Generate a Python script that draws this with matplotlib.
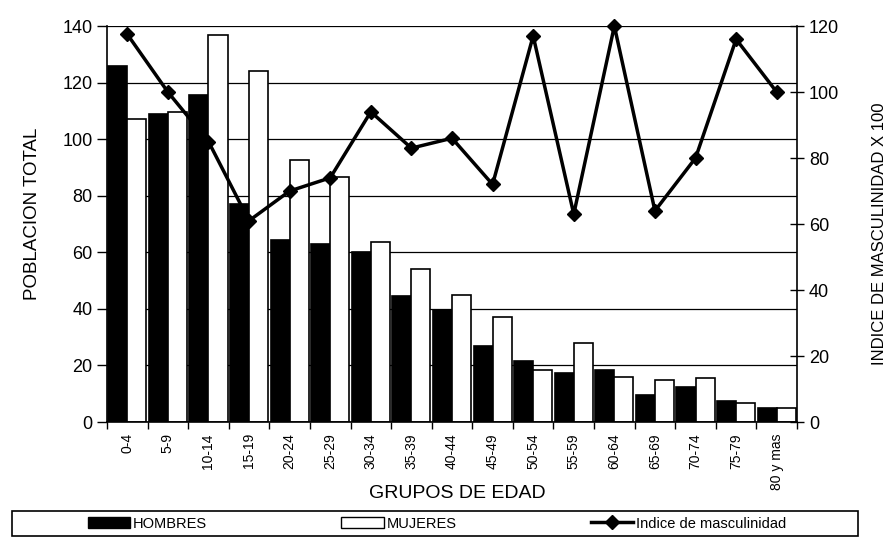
import matplotlib.pyplot as plt
import numpy as np
from matplotlib.patches import Rectangle, Patch
from matplotlib.lines import Line2D

# Data
grupos = ["0-4", "5-9", "10-14", "15-19", "20-24", "25-29", "30-34", "35-39",
          "40-44", "45-49", "50-54", "55-59", "60-64", "65-69", "70-74",
          "75-79", "80 y mas"]
hombres = [126, 109, 115.5, 77, 64.5, 63, 60, 44.5, 39.5, 27, 21.5, 17.5,
           18.5, 9.5, 12.5, 7.5, 5]
mujeres = [107, 109.5, 137, 124, 92.5, 86.5, 63.5, 54, 45, 37, 18.5, 28,
           16, 14.8, 15.4, 6.7, 4.9]
indice = [117.5, 100, 85, 61, 70, 74, 94, 83, 86, 72, 117, 63, 120, 64,
          80, 116, 100]

plt.rcParams["font.family"] = ["Liberation Sans", "DejaVu Sans"]

fig = plt.figure(figsize=(8.93, 5.49), dpi=100)
ax = fig.add_axes([0.1198, 0.2313, 0.7727, 0.7213])

x = np.arange(len(grupos))
w = 0.47

ax.bar(x - w / 2, hombres, width=w, color="black", edgecolor="black",
       linewidth=1.2, zorder=2)
ax.bar(x + w / 2, mujeres, width=w, color="white", edgecolor="black",
       linewidth=1.2, zorder=2)

ax.set_xlim(-0.5, len(grupos) - 0.5)
ax.set_ylim(0, 140)
ax.set_yticks(np.arange(0, 141, 20))
ax.tick_params(axis="y", labelsize=13, direction="out", length=7, width=1)
ax.yaxis.grid(True, color="black", linewidth=0.9)
ax.set_axisbelow(True)

# labels at centres, tick marks at the boundaries
ax.set_xticks(x)
ax.set_xticklabels(grupos, rotation=90, fontsize=10)
ax.tick_params(axis="x", which="major", length=0, pad=8)
ax.set_xticks(np.arange(-0.5, len(grupos)), minor=True)
ax.tick_params(axis="x", which="minor", length=5, width=1, direction="out")

ax.spines["top"].set_visible(False)
ax.spines["right"].set_visible(False)
for s in ["left", "bottom"]:
    ax.spines[s].set_linewidth(1.2)

# Index line on second axis
ax2 = ax.twinx()
ax2.plot(x, indice, color="black", linewidth=2.5, marker="D", markersize=7,
         zorder=3, clip_on=False)
ax2.set_ylim(0, 120)
ax2.set_yticks(np.arange(0, 121, 20))
ax2.tick_params(axis="y", labelsize=13, direction="inout", length=10, width=1)
ax2.spines["top"].set_visible(False)
ax2.spines["left"].set_visible(False)
ax2.spines["bottom"].set_visible(False)
ax2.spines["right"].set_linewidth(1.2)

# Axis titles
fig.text(33 / 893, 1 - 214 / 549, "POBLACION TOTAL", rotation=90,
         ha="center", va="center", fontsize=13.5)
fig.text(880 / 893, 1 - 234 / 549, "INDICE DE MASCULINIDAD X 100",
         rotation=90, ha="center", va="center", fontsize=12)
fig.text(457 / 893, 1 - 493 / 549, "GRUPOS DE EDAD", ha="center",
         va="center", fontsize=14)

# Legend box
fig.patches.append(Rectangle((12 / 893, 0.0237), 846 / 893, 0.0455,
                             transform=fig.transFigure, fill=False,
                             edgecolor="black", linewidth=1.2))
handles = [
    Patch(facecolor="black", edgecolor="black"),
    Patch(facecolor="white", edgecolor="black"),
    Line2D([], [], color="black", linewidth=2.5, marker="D", markersize=7),
]
fig.legend(handles, ["HOMBRES", "MUJERES", "Indice de masculinidad"],
           loc="center", bbox_to_anchor=(437 / 893, 0.0464), ncol=3,
           frameon=False, fontsize=10.5, handlelength=2.9,
           handletextpad=0.2, columnspacing=9.2)

fig.savefig("out.png", dpi=100)
